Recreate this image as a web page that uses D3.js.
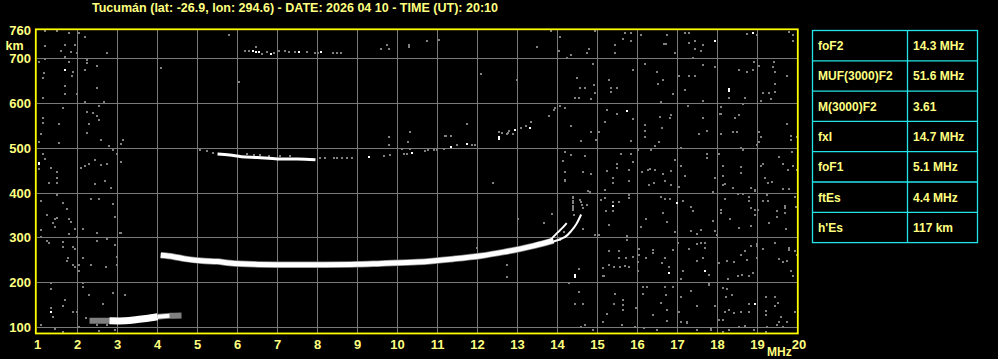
<!DOCTYPE html>
<html><head><meta charset="utf-8">
<script src="https://cdn.jsdelivr.net/npm/d3@7"></script>
<style>html,body{margin:0;padding:0;background:#000;overflow:hidden}svg{display:block}</style>
</head><body>
<script>
// ---------- DATA ----------
const titleText = "Tucumán (lat: -26.9, lon: 294.6) - DATE: 2026 04 10 - TIME (UT): 20:10";
const freqTicks = [1,2,3,4,5,6,7,8,9,10,11,12,13,14,15,16,17,18,19,20];
const heightTicks = [100,200,300,400,500,600,700];
const topHeightLabel = 760;
const paramNames = ["foF2","MUF(3000)F2","M(3000)F2","fxI","foF1","ftEs","h'Es"];
const paramValues = ["14.3 MHz","51.6 MHz","3.61","14.7 MHz","5.1 MHz","4.4 MHz","117 km"];

// echo traces [MHz, km]
const mainTrace = [[4.08,261],[4.4,258],[4.7,253],[5.1,249],[5.5,247],[5.8,244],[6.4,241],[7.0,240],[8.0,240],[9.0,241],[9.6,243],[10.5,246],[11.4,253],[12.1,260],[12.7,269],[13.1,276],[13.4,282],[13.7,289],[13.9,294]];
const oBranch = [[13.78,291],[13.98,310],[14.11,321],[14.23,333]];
const xBranch = [[13.9,292],[14.19,302],[14.36,317],[14.48,332],[14.59,352]];
const esTrace = [[2.3,115],[2.8,115],[3.2,115],[3.5,118],[3.8,121],[4.0,124],[4.3,126],[4.6,127]];
const secondHopCore = [[5.5,487],[5.8,485],[6.1,481],[6.5,479],[7.0,476],[7.5,476],[7.95,474]];
const secondHopDots = [[5.07,495],[5.23,494],[5.38,489],[6.23,488],[6.4,484],[6.57,484],[6.6,477],[6.78,482],[7.07,482],[7.32,482],[8.07,477],[8.2,477],[8.4,477],[8.48,477],[8.61,477],[8.73,477],[8.86,477],[9.65,482],[9.82,484],[9.78,507],[9.78,525],[10.1,499],[10.3,499],[10.25,514],[10.15,488],[10.23,488],[10.69,494],[10.77,495],[10.9,495],[10.98,495],[11.15,498],[11.2,527],[11.48,507],[11.86,507],[11.94,507],[12.61,533],[12.77,533],[12.53,536],[12.78,538],[12.73,531],[12.88,532],[13.09,545],[13.2,550],[13.34,558]];
const secondHopBright = [[9.28,481],[10.37,490],[11.33,503],[11.73,509],[12.53,521],[12.93,541],[13.32,546],[12.53,525]];
const thirdHopDots = [[6.18,717],[6.28,716],[6.74,714],[6.9,713],[7.03,716],[7.18,716],[7.28,715],[7.43,715],[7.73,715],[7.93,712],[8.01,712],[8.38,713],[8.49,713],[8.59,713],[6.45,725],[6.62,710]];
const thirdHopBright = [[6.38,716],[6.47,715],[6.55,714],[6.84,711],[7.53,714],[8.09,714]];

// scattered noise echoes [MHz, km]
const noiseEchoes = [
[1.19,762],[1.49,762],[1.78,756],[2.03,756],[2.19,748],[1.69,730],[1.94,730],[1.19,728],[1.59,717],[1.84,714],[2.74,713],[1.69,704],[1.98,712],[1.19,698],[1.03,692],[1.78,692],[2.24,697],[2.24,691],[1.89,671],[1.85,662],[1.15,667],[1.14,656],[2.19,675],[2.48,684],[1.69,639],[2.48,634],[1.98,621],[1.69,621],[1.14,611],[2.19,603],[2.65,603],[2.53,594],[1.64,589],[2.24,580],[2.38,578],[2.48,572],[1.14,567],[1.14,556],[2.53,563],[1.53,553],[2.28,553],[2.24,533],[1.08,531],[3.13,518],[2.59,518],[1.03,513],[1.53,511],[3.08,509],[2.78,504],[2.88,496],[2.98,486],[1.14,486],[1.19,476],[1.03,453],[3.09,469],[2.43,473],[2.59,463],[2.74,464],[2.28,464],[2.19,460],[2.09,455],[1.34,455],[1.49,446],[1.49,433],[1.49,422],[1.29,422],[2.43,420],[2.69,427],[2.84,411],[1.49,396],[1.08,382],[1.64,377],[1.74,364],[2.34,386],[2.54,386],[2.88,375],[1.24,350],[1.49,344],[1.44,342],[1.79,342],[1.84,335],[1.39,333],[1.44,324],[2.94,346],[1.08,318],[1.79,308],[2.14,319],[1.94,319],[2.48,310],[3.09,310],[1.08,301],[1.99,301],[1.24,292],[1.29,288],[1.64,290],[1.64,279],[1.89,279],[1.94,275],[2.14,255],[1.77,255],[1.74,249],[1.89,239],[1.94,234],[2.72,234],[2.49,292],[2.74,297],[2.94,283],[2.98,257],[2.04,239],[2.34,239],[2.98,239],[2.04,226],[1.34,199],[2.14,199],[1.34,186],[2.14,190],[1.68,162],[2.28,173],[2.88,176],[3.19,173],[1.64,148],[1.34,143],[1.39,124],[1.89,134],[1.99,134],[2.64,152],[2.2,121],[1.08,106],[1.44,97],[2.04,101],[2.49,106],[2.74,106],[2.94,95],[1.64,89],[2.54,92],[3.07,310],[2.94,284],
[5.78,753],[4.09,678],[6.03,647],[9.59,722],[9.74,730],[9.78,722],[10.28,729],[10.28,725],[10.73,738],[11.03,742],[13.49,725],[13.84,762],[14.03,717],[12.09,666],[12.98,652],[11.74,553],[9.78,526],[10.3,537],[11.18,527],[11.34,527],[13.78,572],[13.93,589],[13.9,585],
[12.38,423],[14.19,426],[13.02,342],[13.67,333],[13.87,353],[12.74,239],[12.74,212],[11.99,277],[14.77,404],[15.02,306],
[14.39,391],[14.39,382],[14.39,372],[14.39,362],[14.4,352],[14.57,384],[14.61,373],
[14.93,762],[15.68,756],[15.84,756],[16.09,753],[16.73,753],[15.63,743],[15.83,740],[15.44,730],[16.67,733],[16.7,733],[14.07,749],[14.79,721],[14.73,712],[14.34,708],[14.23,702],[15.44,712],[16.94,712],[14.88,688],[15.88,675],[16.48,669],[16.19,688],[14.48,656],[15.29,652],[16.63,652],[14.69,634],[14.55,634],[14.9,641],[14.94,623],[15.33,634],[15.48,634],[15.33,625],[16.52,643],[14.84,610],[14.54,613],[14.44,611],[16.88,621],[16.59,603],[14.07,593],[14.19,589],[15.23,585],[15.48,576],[15.88,565],[16.19,552],[16.57,570],[16.84,574],[14.34,550],[14.84,537],[15.19,559],[16.19,538],[15.03,536],[15.83,515],[16.19,526],[16.61,545],[16.82,567],[16.54,513],[14.59,515],[14.97,518],[16.44,504],[14.18,491],[14.13,472],[14.34,484],[14.69,483],[14.84,443],[14.63,446],[14.18,429],[14.18,446],[15.23,448],[15.48,464],[15.48,455],[15.38,433],[15.38,422],[15.58,487],[15.78,452],[15.88,470],[15.79,426],[15.84,487],[16.11,446],[16.25,451],[16.32,453],[16.44,451],[16.29,417],[16.42,422],[16.63,442],[16.68,426],[16.83,448],[16.84,418],[16.94,474],[16.34,496],[16.0,496],[15.19,407],[14.8,403],[14.38,388],[14.38,377],[14.38,366],[14.59,381],[14.73,373],[14.63,366],[15.09,385],[15.19,388],[15.38,381],[15.53,379],[15.21,360],[15.38,360],[15.79,388],[15.79,396],[16.59,390],[16.69,387],[16.8,387],[16.63,355],[16.73,336],[16.22,342],[16.08,324],[15.29,329],[14.63,319],[16.94,312],[14.94,307],[15.03,307],[15.73,305],[15.73,295],[14.17,312],[14.07,295],[15.29,271],[15.54,271],[15.54,256],[15.71,256],[15.88,258],[16.04,275],[16.04,262],[16.0,247],[16.0,225],[16.22,255],[16.4,273],[16.4,266],[16.69,255],[16.61,243],[16.79,236],[16.9,273],[15.13,232],[15.13,214],[15.29,240],[15.4,236],[15.55,236],[15.68,238],[15.78,234],[14.54,231],[15.15,214],[14.28,199],[14.54,180],[14.44,152],[14.63,152],[15.4,152],[15.63,162],[15.63,150],[15.63,139],[15.23,130],[15.13,112],[15.44,174],[15.97,143],[16.13,191],[16.13,175],[16.24,191],[16.38,127],[16.59,154],[16.69,191],[16.72,173],[16.9,191],[16.73,139],[16.73,115],[14.69,106],[14.59,102],[14.88,95],[15.61,106],[15.94,102],[16.17,98],[16.48,95],[17.03,134],
[17.18,756],[17.29,756],[18.74,755],[18.99,753],[19.79,759],[19.89,753],[19.89,739],[17.29,734],[17.43,739],[17.64,730],[17.58,716],[17.43,721],[17.39,702],[17.64,686],[17.93,680],[18.54,675],[18.74,671],[18.92,693],[18.89,675],[19.03,684],[19.42,692],[19.39,680],[19.45,671],[19.74,661],[19.43,643],[19.43,626],[19.28,623],[19.33,610],[19.08,605],[19.14,623],[18.29,611],[18.68,611],[18.64,598],[17.64,605],[17.27,594],[17.18,630],[17.04,661],[17.29,661],[17.43,661],[18.08,591],[18.08,576],[18.06,576],[18.08,531],[18.43,567],[18.54,573],[17.64,567],[17.74,538],[17.54,531],[18.39,536],[18.49,536],[19.04,536],[19.08,524],[19.03,513],[19.73,553],[19.83,528],[19.83,518],[19.98,526],[17.08,500],[18.58,501],[18.63,496],[18.99,506],[17.74,487],[17.74,478],[18.03,487],[18.58,457],[18.58,444],[18.14,461],[18.14,438],[18.18,420],[18.14,418],[17.08,461],[17.18,437],[17.93,433],[18.38,412],[18.83,412],[18.95,405],[19.08,461],[19.14,464],[19.18,433],[19.27,422],[19.35,424],[19.54,481],[19.64,464],[19.75,452],[19.85,491],[19.89,461],[19.98,452],[19.64,409],[19.79,409],[17.04,414],[17.89,402],[18.18,387],[18.5,397],[18.64,398],[18.79,390],[18.95,407],[18.79,382],[18.83,366],[18.95,362],[19.14,382],[19.27,382],[19.25,396],[19.28,334],[19.49,359],[19.49,347],[19.68,366],[19.68,370],[19.68,355],[19.72,319],[19.93,392],[19.95,368],[17.13,382],[17.34,368],[17.39,360],[17.89,338],[18.08,355],[18.08,362],[18.3,342],[18.54,323],[18.83,327],[18.95,350],[19.02,362],[17.34,315],[17.49,308],[17.58,318],[17.93,315],[17.98,307],[17.02,288],[17.29,275],[17.49,286],[17.58,288],[17.68,288],[17.68,277],[17.49,249],[17.64,256],[17.79,217],[17.13,225],[17.08,208],[18.03,243],[18.24,249],[18.42,247],[18.58,262],[18.68,271],[18.74,251],[18.83,281],[18.99,281],[18.99,256],[18.89,221],[18.62,217],[18.79,214],[18.5,214],[18.27,208],[18.99,286],[19.13,275],[19.43,288],[19.54,252],[19.64,247],[19.63,246],[19.73,249],[19.79,273],[19.79,277],[19.83,225],[19.89,214],[19.93,271],[19.98,262],[17.79,199],[17.79,195],[17.34,182],[18.13,189],[18.24,186],[18.37,173],[18.2,169],[18.79,152],[19.2,169],[19.43,169],[19.52,154],[19.43,149],[19.2,137],[19.2,128],[19.58,124],[19.93,134],[17.08,169],[17.49,149],[17.93,149],[18.18,135],[18.29,139],[18.42,132],[18.58,134],[18.79,134],[18.03,117],[18.14,117],[17.08,112],[17.24,109],[17.24,113],[17.49,95],[17.83,95],[17.83,99],[18.14,91],[18.29,95],[18.54,102],[18.68,104],[18.92,95],[19.2,91],[19.25,102],[19.49,106],[19.54,112],[19.63,102],[19.73,113]
];
const brightEchoes = [[1.69,674],[1.03,468],[1.03,464],[1.34,134],[15.73,582],[15.38,370],[16.98,377],[16.79,221],[14.44,217],[14.44,213],[17.93,739],[18.89,756],[18.29,631],[18.29,628],[17.68,226],[18.94,152]];

// ---------- DRAW ----------
const W = 998, H = 359;
const svg = d3.select("body").append("svg").attr("width", W).attr("height", H)
  .style("background", "#000");

const x = d3.scaleLinear().domain([1, 20]).range([37.5, 797.5]);
const y = d3.scaleLinear().domain([100, 700]).range([327.5, 58.5]);

const yellow = "#ffff00", textYellow = "#ffff80", gridGray = "#7a7a7a", echoGray = "#808080", cyan = "#22e4e8";
const font = "'Liberation Sans', Arial, sans-serif";

// title
svg.append("text").attr("x", 92).attr("y", 11.5)
  .attr("font-family", font).attr("font-weight", "bold").attr("font-size", 12.5)
  .attr("fill", textYellow).attr("textLength", 406).attr("lengthAdjust", "spacingAndGlyphs")
  .text(titleText);

// grid
const g = svg.append("g").attr("shape-rendering", "crispEdges");
g.selectAll("line.v").data(freqTicks.filter(f => f > 1 && f < 20)).join("line")
  .attr("x1", d => x(d)).attr("x2", d => x(d))
  .attr("y1", y(764)).attr("y2", y(87))
  .attr("stroke", gridGray).attr("stroke-width", 1);
g.selectAll("line.h").data(heightTicks).join("line")
  .attr("x1", x(1) - 1).attr("x2", x(20))
  .attr("y1", d => y(d)).attr("y2", d => y(d))
  .attr("stroke", gridGray).attr("stroke-width", 1);

// noise echoes
const dots = svg.append("g").attr("shape-rendering", "crispEdges");
dots.selectAll("rect.n").data(noiseEchoes.concat(secondHopDots, thirdHopDots)).join("rect")
  .attr("x", d => Math.round(x(d[0])) - 1).attr("y", d => Math.round(y(d[1])) - 1)
  .attr("width", 2).attr("height", 2).attr("fill", echoGray);
dots.selectAll("rect.b").data(brightEchoes.concat(secondHopBright, thirdHopBright)).join("rect")
  .attr("x", d => Math.round(x(d[0])) - 1).attr("y", d => Math.round(y(d[1])) - 1)
  .attr("width", 2).attr("height", 2).attr("fill", "#fff");

// traces
const line = d3.line().x(d => x(d[0])).y(d => y(d[1])).curve(d3.curveCatmullRom.alpha(0.5));
const tr = svg.append("g").attr("fill", "none");
// Es layer
tr.append("path").attr("d", line(esTrace)).attr("stroke", echoGray).attr("stroke-width", 6);
tr.append("path").attr("d", line(esTrace.filter(d => d[0] >= 2.8 && d[0] <= 4.0))).attr("stroke", "#fff").attr("stroke-width", 7);
tr.append("path").attr("d", line(esTrace.filter(d => d[0] >= 4.0 && d[0] <= 4.3))).attr("stroke", "#fff").attr("stroke-width", 4);
// F layer
tr.append("path").attr("d", line(mainTrace)).attr("stroke", echoGray).attr("stroke-width", 6.5);
tr.append("path").attr("d", line(mainTrace)).attr("stroke", "#fff").attr("stroke-width", 5);
tr.append("path").attr("d", line(oBranch)).attr("stroke", "#fff").attr("stroke-width", 2);
tr.append("path").attr("d", line(xBranch)).attr("stroke", "#fff").attr("stroke-width", 2);
// second hop
tr.append("path").attr("d", line(secondHopCore)).attr("stroke", "#fff").attr("stroke-width", 3);

// frame
svg.append("rect").attr("x", x(1) - 1.7).attr("y", y(764) - 0.5)
  .attr("width", x(20) - x(1) + 2).attr("height", y(86.7) - y(764) + 0.5)
  .attr("fill", "none").attr("stroke", yellow).attr("stroke-width", 1.8);

// axis labels
svg.selectAll("text.yt").data(heightTicks).join("text")
  .attr("x", 31).attr("y", d => y(d) + 4.5).attr("text-anchor", "end")
  .attr("font-family", font).attr("font-weight", "bold").attr("font-size", 13).attr("fill", textYellow)
  .text(d => d);
svg.append("text").attr("x", 31).attr("y", y(topHeightLabel) + 3.5).attr("text-anchor", "end")
  .attr("font-family", font).attr("font-weight", "bold").attr("font-size", 13).attr("fill", textYellow)
  .text(topHeightLabel);
svg.append("text").attr("x", 5.5).attr("y", 49.5)
  .attr("font-family", font).attr("font-weight", "bold").attr("font-size", 12.5).attr("fill", textYellow)
  .text("km");
svg.selectAll("text.xt").data(freqTicks.filter(f => f < 20)).join("text")
  .attr("x", d => x(d)).attr("y", 349).attr("text-anchor", "middle")
  .attr("font-family", font).attr("font-weight", "bold").attr("font-size", 13).attr("fill", textYellow)
  .text(d => d);
svg.append("text").attr("x", x(20) + 1.5).attr("y", 349).attr("text-anchor", "middle")
  .attr("font-family", font).attr("font-weight", "bold").attr("font-size", 13).attr("fill", textYellow)
  .text(freqTicks[freqTicks.length - 1]);
svg.append("text").attr("x", 767).attr("y", 356)
  .attr("font-family", font).attr("font-weight", "bold").attr("font-size", 12).attr("fill", textYellow)
  .text("MHz");

// parameter table
const tX0 = 812.5, tX1 = 907.5, tX2 = 977.5, tY0 = 30.5, rowH = 30.3;
const tbl = svg.append("g");
tbl.append("rect").attr("x", tX0).attr("y", tY0).attr("width", tX2 - tX0).attr("height", rowH * paramNames.length)
  .attr("fill", "none").attr("stroke", cyan).attr("stroke-width", 1.3);
tbl.append("line").attr("x1", tX1).attr("x2", tX1).attr("y1", tY0).attr("y2", tY0 + rowH * paramNames.length)
  .attr("stroke", cyan).attr("stroke-width", 1.3);
tbl.selectAll("line.r").data(paramNames.slice(1)).join("line")
  .attr("x1", tX0).attr("x2", tX2)
  .attr("y1", (d, i) => tY0 + rowH * (i + 1)).attr("y2", (d, i) => tY0 + rowH * (i + 1))
  .attr("stroke", cyan).attr("stroke-width", 1.3);
tbl.selectAll("text.pn").data(paramNames).join("text")
  .attr("x", tX0 + 5.5).attr("y", (d, i) => tY0 + rowH * i + 19.5)
  .attr("font-family", font).attr("font-weight", "bold").attr("font-size", 12).attr("fill", textYellow)
  .text(d => d);
tbl.selectAll("text.pv").data(paramValues).join("text")
  .attr("x", tX1 + 5.5).attr("y", (d, i) => tY0 + rowH * i + 19.5)
  .attr("font-family", font).attr("font-weight", "bold").attr("font-size", 12).attr("fill", textYellow)
  .text(d => d);
</script>
</body></html>
